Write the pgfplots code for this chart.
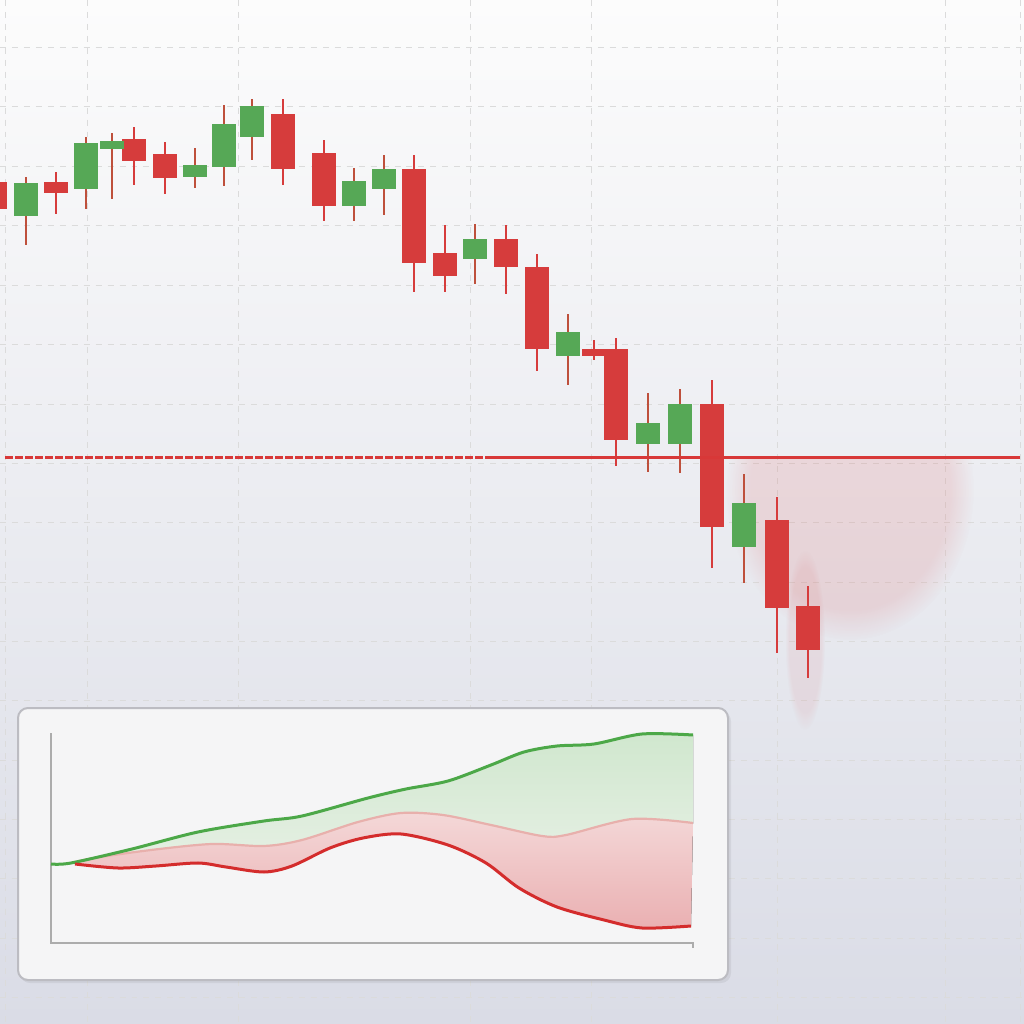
\documentclass[border=0pt]{standalone}
\usepackage{pgfplots}
\pgfplotsset{compat=1.18}
\usepackage{pgfplotstable}
\usepgfplotslibrary{fillbetween}
\usetikzlibrary{fadings}
\definecolor{cred}{RGB}{214,60,60}
\definecolor{cgreen}{RGB}{86,168,86}
\definecolor{cwick}{RGB}{190,80,60}
\definecolor{cline}{RGB}{216,56,56}
\definecolor{igreen}{RGB}{76,168,72}
\definecolor{ired}{RGB}{212,44,44}
\definecolor{ipink}{RGB}{232,176,172}
\definecolor{gfilltop}{RGB}{208,231,206}
\definecolor{gfillbot}{RGB}{230,240,228}
\definecolor{pfilltop}{RGB}{244,216,216}
\definecolor{pfillbot}{RGB}{234,176,178}
\definecolor{bgtop}{RGB}{252,252,252}
\definecolor{bgmid}{RGB}{248,248,249}
\definecolor{bgbot}{RGB}{218,220,230}
\definecolor{boxfill}{RGB}{245,245,246}
\definecolor{boxdraw}{RGB}{188,188,194}

% candles: x, body top, body bottom, wick top, wick bottom (pixel rows, top = 0)
\pgfplotstableread{
x bt bb wt wb
-5 182 209 178 212
56 182 193 172 214
134 139 161 127 185
165 154 178 142 194
283 114 169 99 185
324 153 206 140 221
414 169 263 155 292
445 253 276 225 292
506 239 267 225 294
537 267 349 254 371
594 349 356 340 360
616 349 440 338 466
712 404 527 380 568
777 520 608 497 653
808 606 650 586 678
}\redtab
\pgfplotstableread{
x bt bb wt wb
26 183 216 177 245
86 143 189 137 209
112 141 149 133 199
195 165 177 148 188
224 124 167 105 186
252 106 137 99 160
354 181 206 168 221
384 169 189 155 215
475 239 259 224 284
568 332 356 314 385
648 423 444 393 472
680 404 444 389 473
744 503 547 474 583
}\greentab
\pgfplotstableread{
x y
51 864
71 863
132 849
198 832
264 821
302 816
368 798
406 789
448 781
491 765
524 752
557 746
594 744
642 734
693 735
}\gcurve
\pgfplotstableread{
x y
71 863
94 858
151 850
212 844
264 846
302 840
358 822
401 813
443 815
491 825
542 836
566 835
632 819
693 823
}\pcurve
\pgfplotstableread{
x y
75 864
118 868
156 866
198 863
226 867
264 872
292 866
330 848
363 838
401 834
448 845
486 863
519 888
557 907
604 920
642 928
691 926
}\rcurve

\begin{document}
\begin{tikzpicture}
\begin{axis}[name=main, at={(0,0)}, anchor=south west,
  scale only axis, width=512bp, height=512bp,
  xmin=0, xmax=1024, ymin=0, ymax=1024, y dir=reverse,
  axis line style={draw=none}, tick style={draw=none},
  xticklabels={}, yticklabels={},
  xtick={5,87,238,470,591,777,945,1020},
  ytick={47,106,166,225,285,344,404,463,522,582,641,700,760,819,878,938,997},
  grid=major, grid style={gray!28, dashed, line width=0.4bp},
  axis background/.style={shade, top color=bgtop, middle color=bgmid, bottom color=bgbot}]
\begin{scope}
\clip (axis cs:700,458) rectangle (axis cs:1024,800);
\fill[cred, opacity=0.13, path fading=circle with fuzzy edge 20 percent]
  (axis cs:850,490) ellipse [x radius=62bp, y radius=75bp];
\fill[cred, opacity=0.08, path fading=circle with fuzzy edge 20 percent]
  (axis cs:805,640) ellipse [x radius=10bp, y radius=45bp];
\end{scope}
% wicks
\addplot[draw=none, mark=none, error bars/.cd, y dir=plus, y explicit, error mark=none,
  error bar style={line width=1.2bp, cred}]
  table[x=x, y=wt, y error expr=\thisrow{wb}-\thisrow{wt}] {\redtab};
\addplot[draw=none, mark=none, error bars/.cd, y dir=plus, y explicit, error mark=none,
  error bar style={line width=1.2bp, cwick}]
  table[x=x, y=wt, y error expr=\thisrow{wb}-\thisrow{wt}] {\greentab};
% bodies
\addplot[draw=none, mark=none, error bars/.cd, y dir=plus, y explicit, error mark=none,
  error bar style={line width=12bp, cred}]
  table[x=x, y=bt, y error expr=\thisrow{bb}-\thisrow{bt}] {\redtab};
\addplot[draw=none, mark=none, error bars/.cd, y dir=plus, y explicit, error mark=none,
  error bar style={line width=12bp, cgreen}]
  table[x=x, y=bt, y error expr=\thisrow{bb}-\thisrow{bt}] {\greentab};
% horizontal level
\addplot[cline, line width=1.5bp, dash pattern=on 4bp off 1bp] coordinates {(5,457) (485,457)};
\addplot[cline, line width=1.5bp] coordinates {(485,457) (1020,457)};
% inset panel
\fill[black, opacity=0.06, rounded corners=5bp] (axis cs:20,711) rectangle (axis cs:731,983);
\draw[fill=boxfill, draw=boxdraw, line width=1bp, rounded corners=5bp]
  (axis cs:18,708) rectangle (axis cs:728,980);
\end{axis}

\begin{axis}[at={(25.5bp,40.5bp)}, anchor=south west,
  scale only axis, width=321bp, height=105bp,
  xmin=51, xmax=693, ymin=733, ymax=943, y dir=reverse, clip=false,
  axis line style={draw=none}, tick style={draw=none},
  xticklabels={}, yticklabels={},
  xtick={158,300,448,598}, ytick={757,782,810,841,864,890,917},
  grid=major, grid style={gray!25, dashed, line width=0.35bp}]
\draw[gray!65, line width=0.6bp] (axis cs:51,733) -- (axis cs:51,943) -- (axis cs:693,943) -- (axis cs:693,948);
\addplot[name path=G, draw=none, smooth] table {\gcurve};
\addplot[name path=P, draw=none, smooth] table {\pcurve};
\addplot[name path=R, draw=none, smooth] table {\rcurve};
\addplot[shade, top color=gfilltop, bottom color=gfillbot] fill between[of=G and P, on layer=main];
\addplot[shade, top color=pfilltop, bottom color=pfillbot] fill between[of=P and R, on layer=main];
\addplot[ipink, line width=1.1bp, smooth] table {\pcurve};
\addplot[igreen, line width=1.5bp, smooth] table {\gcurve};
\addplot[ired, line width=1.5bp, smooth] table {\rcurve};
\end{axis}
\pgfresetboundingbox
\useasboundingbox (main.south west) rectangle (main.north east);
\end{tikzpicture}
\end{document}
